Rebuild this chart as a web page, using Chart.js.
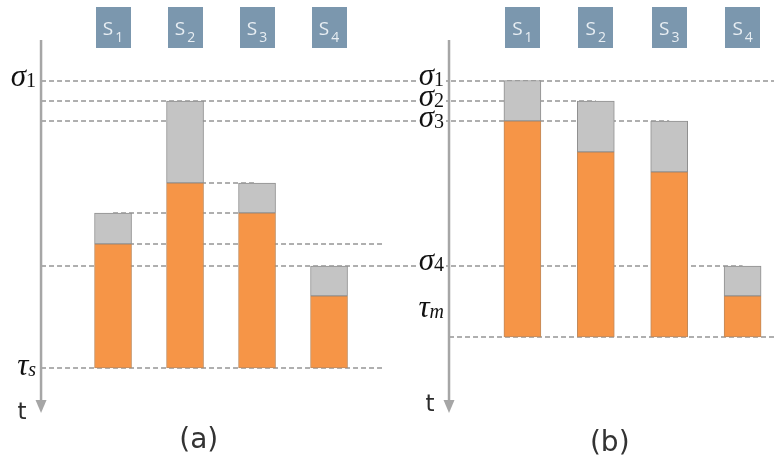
<!DOCTYPE html>
<html>
<head>
<meta charset="utf-8">
<script src="https://cdn.jsdelivr.net/npm/chart.js@4.4.0/dist/chart.umd.min.js"></script>
<style>
  body { margin: 0; background: #fff; }
  #wrap { position: relative; width: 774px; height: 461px; }
  canvas { position: absolute; top: 0; }
</style>
</head>
<body>
<div id="wrap">
  <canvas id="panelA" width="387" height="461" style="left:0"></canvas>
  <canvas id="panelB" width="387" height="461" style="left:387px"></canvas>
</div>
<script>
// Stages and their column slots
let stages = ['S1', 'S2', 'S3', 'S4'];
let slots = [1, 2, 3, 4];

// Time levels (t grows downwards)
let sigma = [4.05, 6.1, 8.1, 22.6];
let tauS = 32.8;
let tauM = 29.7;

// (a): grey part starts at idleTop, orange part from busyTop down to tauS
let idleTopA = [17.3, 6.1, 14.3, 22.6];
let busyTopA = [20.4, 14.3, 17.3, 25.6];

// (b): same, finishing at tauM
let idleTopB = [4.05, 6.1, 8.1, 22.6];
let busyTopB = [8.1, 11.2, 13.2, 25.6];

let axisEnd = 37.3;

// Dashed guide lines: from/to are x values, missing = canvas edge
let guidesA = [
  { t: sigma[0], from: 0 },
  { t: sigma[1], from: 0 },
  { t: sigma[2], from: 0 },
  { t: sigma[3], from: 0 },
  { t: busyTopA[1], from: 2, to: 3 },
  { t: idleTopA[0], from: 1, to: 3 },
  { t: busyTopA[0], from: 1, to: 4.74 },
  { t: tauS, from: 0, to: 4.74 }
];
let guidesB = [
  { t: sigma[0] },
  { t: sigma[1], to: 2 },
  { t: sigma[2], to: 3 },
  { t: sigma[3], to: 4 },
  { t: tauM, from: 0 }
];

let labelsA = [
  { sym: 'σ', sub: '1', t: sigma[0], dy: 5 },
  { sym: 'τ', sub: 's', t: tauS, dy: 7, italicSub: true }
];
let labelsB = [
  { sym: 'σ', sub: '1', t: sigma[0], dy: 4 },
  { sym: 'σ', sub: '2', t: sigma[1], dy: 5 },
  { sym: 'σ', sub: '3', t: sigma[2], dy: 6 },
  { sym: 'σ', sub: '4', t: sigma[3], dy: 4 },
  { sym: 'τ', sub: 'm', t: tauM, dy: -20, italicSub: true }
];

function drawGuides(chart, guides) {
  let { ctx, width } = chart;
  let { x, y } = chart.scales;
  ctx.save();
  ctx.strokeStyle = '#959595';
  ctx.lineWidth = 1.6;
  ctx.setLineDash([5, 3]);
  guides.forEach(g => {
    let py = Math.round(y.getPixelForValue(g.t));
    let x0 = g.from === undefined ? 0 : x.getPixelForValue(g.from);
    let x1 = g.to === undefined ? width : x.getPixelForValue(g.to);
    ctx.beginPath();
    ctx.moveTo(x0, py);
    ctx.lineTo(x1, py);
    ctx.stroke();
  });
  ctx.restore();
}

function drawTimeAxis(chart, panel) {
  let { ctx } = chart;
  let { x, y } = chart.scales;
  let px = x.getPixelForValue(0);
  let top = y.getPixelForValue(0);
  let tip = y.getPixelForValue(axisEnd);
  ctx.save();
  ctx.strokeStyle = '#a6a6a6';
  ctx.fillStyle = '#a6a6a6';
  ctx.lineWidth = 2.5;
  ctx.beginPath();
  ctx.moveTo(px, top);
  ctx.lineTo(px, tip - 12);
  ctx.stroke();
  ctx.beginPath();
  ctx.moveTo(px - 5.5, tip - 13);
  ctx.lineTo(px + 5.5, tip - 13);
  ctx.lineTo(px, tip);
  ctx.closePath();
  ctx.fill();
  ctx.fillStyle = '#2b2b2b';
  ctx.font = '23px "DejaVu Sans"';
  ctx.textAlign = 'center';
  ctx.fillText('t', px - 19, panel.tBase);
  ctx.restore();
}

function drawLevelLabel(chart, l) {
  let { ctx } = chart;
  let { x, y } = chart.scales;
  let right = x.getPixelForValue(0) - 5;
  let base = y.getPixelForValue(l.t) + l.dy;
  let mainFont = 'italic 31px "Liberation Serif"';
  let subFont = (l.italicSub ? 'italic ' : '') + '20px "Liberation Serif"';
  ctx.save();
  ctx.font = subFont;
  let ws = ctx.measureText(l.sub).width;
  ctx.font = mainFont;
  let wm = ctx.measureText(l.sym).width;
  let left = right - ws - wm;
  ctx.fillStyle = '#fff';
  ctx.fillRect(left - 2, base - 16, wm + ws + 4, 20);
  ctx.fillStyle = '#111';
  ctx.textAlign = 'left';
  ctx.fillText(l.sym, left, base);
  ctx.font = subFont;
  ctx.fillText(l.sub, left + wm, base + 1);
  ctx.restore();
}

function drawStageBoxes(chart) {
  let { ctx } = chart;
  let { x } = chart.scales;
  ctx.save();
  slots.forEach((s, i) => {
    let cx = x.getPixelForValue(s);
    ctx.fillStyle = '#7b97ae';
    ctx.fillRect(Math.round(cx - 17.5), 7, 35, 41);
    let name = stages[i];
    ctx.font = '19px "Open Sans"';
    let w1 = ctx.measureText(name[0]).width;
    ctx.font = '14px "Open Sans"';
    let w2 = ctx.measureText(name.slice(1)).width;
    let left = cx - (w1 + w2 + 2) / 2;
    ctx.fillStyle = '#e8eef3';
    ctx.font = '19px "Open Sans"';
    ctx.fillText(name[0], left, 35);
    ctx.font = '14px "Open Sans"';
    ctx.fillText(name.slice(1), left + w1 + 2, 42);
  });
  ctx.restore();
}

function drawCaption(chart, panel) {
  let { ctx } = chart;
  let { x } = chart.scales;
  ctx.save();
  ctx.fillStyle = '#333';
  ctx.font = '28px "DejaVu Sans"';
  ctx.textAlign = 'center';
  ctx.fillText(panel.caption, x.getPixelForValue(2.19), panel.captionBase);
  ctx.restore();
}

function diagramPlugin(panel) {
  return {
    id: 'diagram',
    beforeDatasetsDraw(chart) { drawGuides(chart, panel.guides); },
    afterDatasetsDraw(chart) {
      drawTimeAxis(chart, panel);
      panel.labels.forEach(l => drawLevelLabel(chart, l));
      drawStageBoxes(chart);
      drawCaption(chart, panel);
    }
  };
}

function makePanel(canvasId, panel) {
  let idle = slots.map((s, i) => ({ x: s, y: [panel.idleTop[i], panel.busyTop[i]] }));
  let busy = slots.map((s, i) => ({ x: s, y: [panel.busyTop[i], panel.base] }));
  let ctx = document.getElementById(canvasId).getContext('2d');
  return new Chart(ctx, {
    type: 'bar',
    data: {
      datasets: [
        { label: 'waiting', data: idle, backgroundColor: '#c4c4c4', borderColor: '#8f8f8f', borderWidth: 1, borderSkipped: false, grouped: false, barThickness: 37 },
        { label: 'running', data: busy, backgroundColor: '#f69547', borderColor: '#c08a5c', borderWidth: 1, borderSkipped: false, grouped: false, barThickness: 37 }
      ]
    },
    options: {
      responsive: false,
      animation: false,
      events: [],
      layout: { padding: 0 },
      scales: {
        x: { type: 'linear', display: false, offset: false, min: panel.xMin, max: panel.xMax },
        y: { type: 'linear', display: false, reverse: true, min: -4, max: 42.1 }
      },
      plugins: { legend: { display: false }, tooltip: { enabled: false } }
    },
    plugins: [diagramPlugin(panel)]
  });
}

makePanel('panelA', {
  idleTop: idleTopA, busyTop: busyTopA, base: tauS,
  guides: guidesA, labels: labelsA,
  xMin: -0.57, xMax: 4.805,
  caption: '(a)', captionBase: 448, tBase: 419
});

makePanel('panelB', {
  idleTop: idleTopB, busyTop: busyTopB, base: tauM,
  guides: guidesB, labels: labelsB,
  xMin: -0.845, xMax: 4.428,
  caption: '(b)', captionBase: 451, tBase: 411
});
</script>
</body>
</html>
